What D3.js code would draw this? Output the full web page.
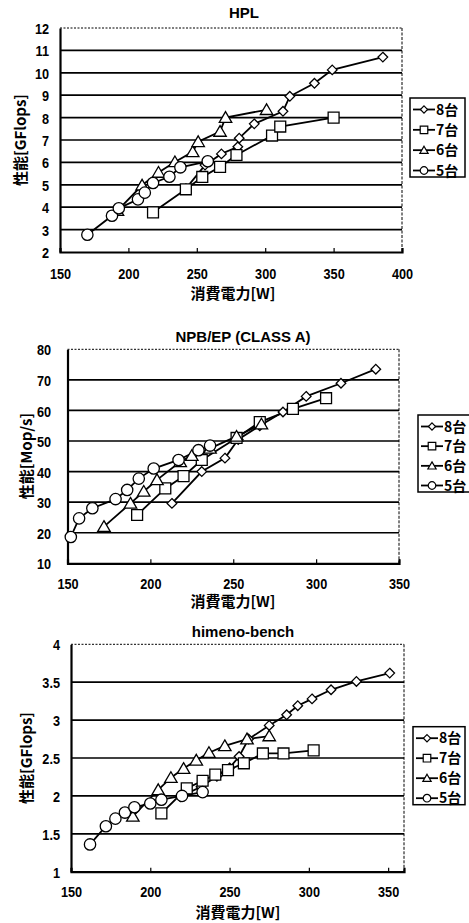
<!DOCTYPE html>
<html>
<head>
<meta charset="utf-8">
<script src="https://cdn.jsdelivr.net/npm/d3@7"></script>
<style>
  html, body { margin: 0; padding: 0; background: #fff; }
  svg { display: block; }
  .num { font-family: "Liberation Sans", Arial, sans-serif; font-weight: bold; }
  .jp { font-family: "Noto Sans CJK JP", "Noto Sans", sans-serif; font-weight: bold; }
</style>
</head>
<body>
<svg id="chart" width="469" height="923"></svg>
<script>
// ---------------- DATA ----------------
const seriesNames = ["8台", "7台", "6台", "5台"];
const markerTypes = ["diamond", "square", "triangle", "circle"];

// HPL  [W, GFlops]
const hpl8 = [[242,4.83],[256,5.88],[268,6.38],[280,6.7],[281,7.08],[292,7.72],[313,8.28],[318,8.95],[336,9.53],[349,10.13],[386,10.7]];
const hpl7 = [[218,3.77],[242,4.8],[254,5.35],[267,5.8],[279,6.33],[305,7.2],[311,7.6],[350,8.0]];
const hpl6 = [[192,3.85],[210,4.98],[222,5.55],[234,6.02],[247,6.47],[251,6.92],[267,7.38],[271,8.0],[301,8.35]];
const hpl5 = [[170,2.77],[188,3.62],[193,3.95],[207,4.35],[212,4.65],[218,5.08],[230,5.36],[238,5.78],[258,6.05]];
const hplXTicks = [150, 200, 250, 300, 350, 400];
const hplYTicks = [2, 3, 4, 5, 6, 7, 8, 9, 10, 11, 12];

// NPB/EP (CLASS A)  [W, Mop/s]
const npb8 = [[213,29.6],[231,40],[245,44.4],[253,50.5],[266,55],[280,59.5],[294,64.6],[315,68.9],[336,73.5]];
const npb7 = [[192,25.8],[209,34.5],[220,38.5],[231,43.8],[252,51],[266,56.2],[286,60.5],[306,64]];
const npb6 = [[172,22],[188,29.6],[196,33.5],[204,37.3],[218,43.2],[225,45.2],[236,47.6],[252,51.5],[267,55.5]];
const npb5 = [[152,18.6],[157,24.7],[165,28],[179,31],[186,34],[193,37.7],[202,41],[217,43.8],[229,47],[236,48.5]];
const npbXTicks = [150, 200, 250, 300, 350];
const npbYTicks = [10, 20, 30, 40, 50, 60, 70, 80];

// himeno-bench  [W, GFlops]
const him8 = [[219,1.99],[232,2.12],[242,2.26],[250,2.37],[256,2.52],[262,2.75],[275,2.93],[286,3.07],[293,3.19],[302,3.28],[314,3.4],[330,3.51],[351,3.62]];
const him7 = [[207,1.77],[223,2.1],[233,2.2],[241,2.28],[249,2.34],[259,2.43],[271,2.56],[284,2.56],[303,2.6]];
const him6 = [[189,1.73],[205,2.08],[213,2.24],[221,2.36],[229,2.47],[237,2.57],[247,2.66],[261,2.75],[275,2.79]];
const him5 = [[162,1.36],[172,1.6],[178,1.7],[184,1.78],[190,1.85],[200,1.9],[207,1.95],[220,2.0],[233,2.05]];
const himXTicks = [150, 200, 250, 300, 350];
const himYTicks = [1, 1.5, 2, 2.5, 3, 3.5, 4];

const xTitle = "消費電力[W]";

// ---------------- LAYOUT ----------------
const charts = [
  { title: "HPL", yTitle: "性能[GFlops]", series: [hpl8, hpl7, hpl6, hpl5],
    xTicks: hplXTicks, yTicks: hplYTicks, xDom: [150, 400], yDom: [2, 12],
    left: 60, right: 402, top: 28, bottom: 252, yLabX: 49,
    titleX: 244, titleY: 17.5, xLabY: 279, xTitleX: 233, xTitleY: 298.5, yTitleX: 20, yTitleY: 140,
    legend: { x: 410, y: 98, w: 55, h: 79 } },
  { title: "NPB/EP (CLASS A)", yTitle: "性能[Mop/s]", series: [npb8, npb7, npb6, npb5],
    xTicks: npbXTicks, yTicks: npbYTicks, xDom: [150, 350], yDom: [10, 80],
    left: 67.5, right: 399, top: 349.3, bottom: 563.3, yLabX: 51,
    titleX: 243, titleY: 342, xLabY: 588.5, xTitleX: 233, xTitleY: 607, yTitleX: 26, yTitleY: 456,
    legend: { x: 418, y: 415, w: 58, h: 77 } },
  { title: "himeno-bench", yTitle: "性能[GFlops]", series: [him8, him7, him6, him5],
    xTicks: himXTicks, yTicks: himYTicks, xDom: [150, 360], yDom: [1, 4],
    left: 71, right: 404, top: 644.3, bottom: 871.7, yLabX: 60,
    titleX: 243, titleY: 637, xLabY: 897, xTitleX: 238, xTitleY: 917.5, yTitleX: 26, yTitleY: 758,
    legend: { x: 413, y: 726.7, w: 52, h: 78 } }
];

const svg = d3.select("#chart");
svg.append("rect").attr("width", 469).attr("height", 923).attr("fill", "#fff");

function markerPath(type, s) {
  const p = d3.path();
  if (type === "diamond") {
    p.moveTo(0, -s); p.lineTo(s, 0); p.lineTo(0, s); p.lineTo(-s, 0); p.closePath();
  } else if (type === "square") {
    const h = s * 1.05;
    p.rect(-h, -h, 2 * h, 2 * h);
  } else if (type === "triangle") {
    const h = s * 1.1;
    p.moveTo(0, -h); p.lineTo(h * 1.05, h * 0.8); p.lineTo(-h * 1.05, h * 0.8); p.closePath();
  } else {
    p.arc(0, 0, s * 1.05, 0, 2 * Math.PI);
  }
  return p.toString();
}
const markerSize = [4.8, 5.2, 5.4, 5.4];
const cond = 0.82; // horizontal condensing of numeric tick labels

charts.forEach(c => {
  const g = svg.append("g");
  const x = d3.scaleLinear().domain(c.xDom).range([c.left, c.right]);
  const y = d3.scaleLinear().domain(c.yDom).range([c.bottom, c.top]);

  // gridlines
  g.selectAll("line.grid").data(c.yTicks.filter(t => t !== c.yDom[0] && t !== c.yDom[1]))
    .join("line").attr("class", "grid")
    .attr("x1", c.left).attr("x2", c.right)
    .attr("y1", d => y(d)).attr("y2", d => y(d))
    .attr("stroke", "#000").attr("stroke-width", 1.7);

  // top border dotted, right border dashed
  g.append("line").attr("x1", c.left).attr("x2", c.right).attr("y1", c.top).attr("y2", c.top)
    .attr("stroke", "#000").attr("stroke-width", 1).attr("stroke-dasharray", "2,1.5");
  g.append("line").attr("x1", c.right).attr("x2", c.right).attr("y1", c.top).attr("y2", c.bottom)
    .attr("stroke", "#000").attr("stroke-width", 1).attr("stroke-dasharray", "3,1.5");

  // axes
  const xAxis = d3.axisBottom(x).tickValues(c.xTicks).tickSize(-4).tickFormat(d3.format("d"));
  const gx = g.append("g").attr("transform", `translate(0,${c.bottom})`).call(xAxis);
  gx.select(".domain").attr("stroke-width", 2.2);
  gx.selectAll(".tick line").attr("stroke-width", 1.2);
  gx.selectAll(".tick text").attr("class", "num").attr("font-size", 15.5).attr("fill", "#000")
    .attr("y", null).attr("dy", null)
    .attr("transform", `translate(0,${c.xLabY - c.bottom}) scale(${cond},1)`);

  const yAxis = d3.axisLeft(y).tickValues(c.yTicks).tickSize(0).tickPadding(0)
    .tickFormat(d => String(d));
  const gy = g.append("g").attr("transform", `translate(${c.left},0)`).call(yAxis);
  gy.select(".domain").attr("stroke-width", 2.2);
  gy.selectAll(".tick text").attr("class", "num").attr("font-size", 15.5).attr("fill", "#000")
    .attr("x", null).attr("dy", "0.36em")
    .attr("transform", `translate(${c.yLabX - c.left},0) scale(${cond},1)`);

  // titles
  g.append("text").attr("class", "num").attr("x", c.titleX).attr("y", c.titleY)
    .attr("text-anchor", "middle").attr("font-size", 15).text(c.title);
  g.append("text").attr("class", "jp").attr("x", c.xTitleX).attr("y", c.xTitleY)
    .attr("text-anchor", "middle").attr("font-size", 15).text(xTitle);
  g.append("text").attr("class", "jp")
    .attr("transform", `translate(${c.yTitleX + 5.5},${c.yTitleY}) rotate(-90)`)
    .attr("text-anchor", "middle").attr("font-size", 15).text(c.yTitle);

  // series
  const line = d3.line().x(d => x(d[0])).y(d => y(d[1]));
  c.series.forEach((data, i) => {
    g.append("path").datum(data).attr("d", line)
      .attr("fill", "none").attr("stroke", "#000").attr("stroke-width", 1.8);
  });
  c.series.forEach((data, i) => {
    g.selectAll(null).data(data).join("path")
      .attr("transform", d => `translate(${x(d[0])},${y(d[1])})`)
      .attr("d", markerPath(markerTypes[i], markerSize[i]))
      .attr("fill", "#fff").attr("stroke", "#000").attr("stroke-width", 1.3);
  });

  // legend
  const L = c.legend;
  const lg = g.append("g");
  lg.append("rect").attr("x", L.x).attr("y", L.y).attr("width", L.w).attr("height", L.h)
    .attr("fill", "#fff").attr("stroke", "#000").attr("stroke-width", 1.5);
  seriesNames.forEach((name, i) => {
    const ly = L.y + 11.5 + i * (L.h - 18) / 3;
    lg.append("line").attr("x1", L.x + 3).attr("x2", L.x + 25).attr("y1", ly).attr("y2", ly)
      .attr("stroke", "#000").attr("stroke-width", 1.8);
    lg.append("path").attr("transform", `translate(${L.x + 14},${ly})`)
      .attr("d", markerPath(markerTypes[i], 3.6))
      .attr("fill", "#fff").attr("stroke", "#000").attr("stroke-width", 1.2);
    lg.append("text").attr("class", "jp").attr("x", L.x + 26).attr("y", ly).attr("dy", "0.36em")
      .attr("font-size", 14).text(name);
  });
});
</script>
</body>
</html>
